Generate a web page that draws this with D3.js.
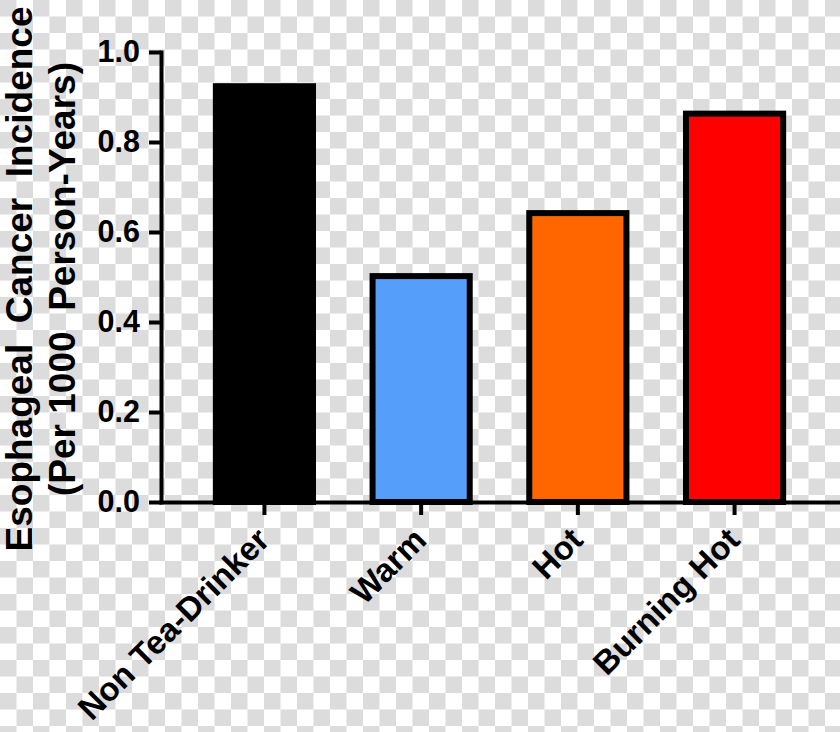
<!DOCTYPE html>
<html>
<head>
<meta charset="utf-8">
<script src="https://cdn.jsdelivr.net/npm/d3@7"></script>
<style>
  html, body { margin: 0; padding: 0; background: #fff; }
  svg { display: block; }
  text { font-family: "Liberation Sans", Arial, Helvetica, sans-serif; font-weight: bold; fill: #000; }
</style>
</head>
<body>
<svg id="chart" width="840" height="732"></svg>
<script>
const categories = ["Non Tea-Drinker", "Warm", "Hot", "Burning Hot"];
const values = [0.924, 0.502, 0.642, 0.863];
const barColors = ["#000000", "#559ffa", "#ff6600", "#ff0000"];
const yTicks = [0, 0.2, 0.4, 0.6, 0.8, 1.0];
const titleLines = ["Esophageal  Cancer  Incidence", "(Per 1000  Person-Years)"];

const svg = d3.select("#chart");
const W = 840, H = 732;

// checkerboard background
const defs = svg.append("defs");
const pat = defs.append("pattern").attr("id", "checker")
  .attr("patternUnits", "userSpaceOnUse").attr("width", 33).attr("height", 33);
pat.append("rect").attr("width", 33).attr("height", 33).attr("fill", "#ffffff");
pat.append("rect").attr("x", 0).attr("y", 0).attr("width", 16.5).attr("height", 16.5).attr("fill", "#dcdcdc");
pat.append("rect").attr("x", 16.5).attr("y", 16.5).attr("width", 16.5).attr("height", 16.5).attr("fill", "#dcdcdc");
svg.append("rect").attr("width", W).attr("height", H).attr("fill", "url(#checker)");

const x0 = 161, x1 = 838, yTop = 52, yBot = 502;
const x = d3.scaleBand().domain(categories).range([x0, x1]).paddingInner(0.38).paddingOuter(0.35);
const y = d3.scaleLinear().domain([0, 1]).range([yBot, yTop]);

// bars
svg.append("g").selectAll("rect").data(values).join("rect")
  .attr("x", (d, i) => x(categories[i]))
  .attr("y", d => y(d))
  .attr("width", x.bandwidth())
  .attr("height", d => y(0) - y(d))
  .attr("fill", (d, i) => barColors[i])
  .attr("stroke", "#000")
  .attr("stroke-width", 6);

// y axis
const yAxis = svg.append("g").attr("transform", `translate(${x0},0)`)
  .call(d3.axisLeft(y).tickValues(yTicks).tickFormat(d3.format(".1f")).tickSize(12).tickSizeOuter(0).tickPadding(9));
yAxis.select(".domain").attr("stroke-width", 4).attr("stroke-linecap", "square");
yAxis.selectAll(".tick line").attr("stroke-width", 4);
yAxis.selectAll(".tick text").attr("font-size", 30.5).attr("font-weight", "bold")
  .attr("font-family", "'Liberation Sans', Arial, sans-serif");

// x axis
const xAxis = svg.append("g").attr("transform", `translate(0,${yBot})`)
  .call(d3.axisBottom(x).tickSize(13).tickSizeOuter(0).tickFormat(""));
xAxis.select(".domain").attr("stroke-width", 4).attr("stroke-linecap", "square");
xAxis.selectAll(".tick line").attr("stroke-width", 4);

// rotated category labels
svg.append("g").selectAll("text").data(categories).join("text")
  .attr("transform", d => `translate(${x(d) + x.bandwidth() / 2 + 7},${yBot + 40}) rotate(-45)`)
  .attr("text-anchor", "end")
  .attr("font-size", 33)
  .text(d => d);

// y title
const cy = (yTop + yBot) / 2 + 2;
svg.append("g").selectAll("text").data(titleLines).join("text")
  .attr("transform", (d, i) => `translate(${32 + i * 43},${cy}) rotate(-90)`)
  .attr("text-anchor", "middle")
  .attr("font-size", 37)
  .style("white-space", "pre")
  .text(d => d);
</script>
</body>
</html>
